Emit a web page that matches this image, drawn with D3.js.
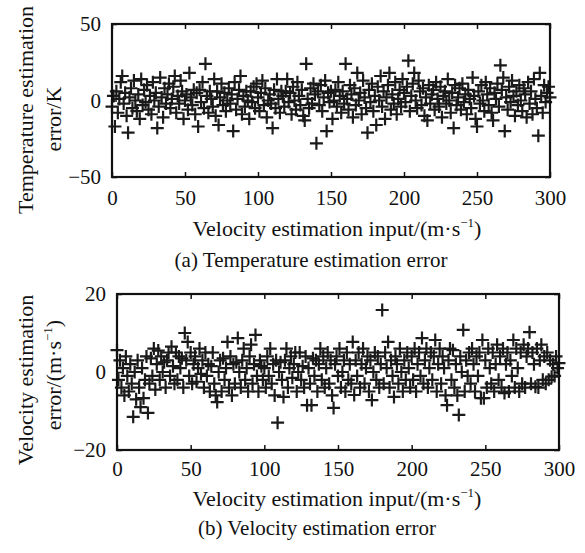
<!DOCTYPE html>
<html><head><meta charset="utf-8">
<script src="https://cdn.jsdelivr.net/npm/d3@7"></script>
<style>body{margin:0;background:#fff}svg{display:block}text{font-family:"Liberation Serif","Times New Roman",serif;fill:#111}</style>
</head><body>
<script>
const xTicks=[0,50,100,150,200,250,300];
const tempTicks=[-50,0,50];
const velTicks=[-20,0,20];
const inputStep=1; // velocity input grid 0..300
const tempError=[
-4,3,-17,6,-8,1,12,16,-2,5,-10,-21,2,8,-5,13,0,-7,4,-12,
14,-3,7,-1,10,-6,3,-9,12,0,5,-18,-4,15,2,-11,8,-2,4,11,
-5,1,9,16,-8,3,-2,13,6,-12,0,4,-6,18,2,-3,7,-9,5,-17,
7,-1,12,-5,24,3,-8,6,1,-4,14,-10,6,-16,2,11,-3,5,-7,0,
8,-2,4,-20,12,-6,1,7,16,-9,3,-4,6,0,-12,6,-1,9,-5,11,
2,-7,5,13,-3,8,-11,0,4,-2,-18,7,-5,14,1,-8,6,3,-4,6,
14,-1,5,-9,9,0,-6,12,3,-3,7,-10,-13,24,1,-5,8,-2,11,4,
-28,6,-3,10,-7,2,13,-20,5,-1,6,-12,0,7,-4,12,3,-8,6,-2,
24,1,-6,10,4,-11,8,-3,18,0,5,-9,13,2,-5,-21,7,-1,11,-7,
3,-16,9,0,16,-4,6,-12,2,10,18,-6,4,-2,12,-9,1,7,-4,14,
5,-1,9,26,-7,3,11,18,0,-5,13,6,-3,8,-10,2,-13,10,-2,4,
7,-6,12,1,-4,9,-11,3,6,-2,14,0,-8,5,-18,10,-3,2,8,-6,
11,-1,4,-9,7,1,-5,15,3,-12,-17,6,-2,10,0,-7,12,4,-3,8,
-8,-13,5,1,11,-4,23,7,15,-20,2,-6,9,-1,13,3,-10,6,-3,10,
0,-7,8,4,-11,12,-2,6,-9,14,1,-5,-23,18,3,-8,10,-1,5,9,
2];
const velError=[
5.6,-2,3,-4,1,-6,4,-1,-5,2,-3,-11.5,0,-7,3,-4,-9,1,-6.7,-2,
4,-10.5,-3,3.5,-1,6,-4.5,2,5.5,-2,4,0,2.5,-4,3,5,-1,6.5,1.5,-3,
5,-2,4,1,3.5,-4,10,3,7.7,-1,5,-3,2,4,-2.5,1,6,-0.5,3,-4,
5,-1,2,-5,1.5,5,-3,-6,-7.7,0,3,-5,3.5,-2,1,7.7,-4,4,-6,2,
-3,2.5,8.7,0,-4,3,6,-2,1,-5,4,7,-3,2,9.5,-1,-5,3,1.5,-2,
1,-4,4,-1,6,-3,2,-6,3,-13,0,2.5,-2,-6.4,3,6,-4,1,4,-1.5,
2,5,-5,0,5,-2,1.5,-4,4,-8.5,1,-3,-8.5,3.5,-1,3,-5,2,6,-2,
4,-4,1,5,-3,3,-6,-9.2,2,4,-1,6,-4,0,3,-5,5,-2,2,-3,
7.7,-5.9,3,-1,5,-4,2,6,-3,1,4,-5,3,-7.2,0,5,-2,4,-4,2,
15.9,-3,5,1,7.7,-4,3,-1,-6.4,4,2,-3,6,0,-5,3,-2,5,1,-4,
4,-2,6,-5,2,5,-1,8.7,-3,3,6,-4,1,5,-2,4,8.2,-5,2,6,
-3,4,1,-6,-8.5,3,6,-2,5.6,-4,2,-6,-11,4,0,10.8,-5,3,-1,5,
-3,6,2,-5,4,-1,5,-6.7,8.2,-6.7,3,-4,6,1,-3,5,-5,2,7,-2,
4,-4,6,-5.4,2,5,-5,3,-1,8.2,-4,6,1,-5,5,-3,7,-4,4,6,
10.2,-3,5,2,-3.8,6,-4,3,7,-2,4,-3,5,-2,3,-1.2,2,-1,4,1,
2.3];

const W=585,H=553;
const svg=d3.select("body").append("svg").attr("width",W).attr("height",H);
const FS=21;

function panel(cfg){
  const x=d3.scaleLinear().domain([0,300]).range([cfg.x0,cfg.x1]);
  const y=d3.scaleLinear().domain([cfg.ymin,cfg.ymax]).range([cfg.y1,cfg.y0]);
  const g=svg.append("g");
  const pts=cfg.values.map((v,i)=>({x:i*inputStep,y:v}));
  g.selectAll("path.pt").data(pts).join("path").attr("class","pt")
    .attr("d",d=>`M${x(d.x)-6.5},${y(d.y)}H${x(d.x)+6.5}M${x(d.x)},${y(d.y)-6.5}V${y(d.y)+6.5}`)
    .attr("stroke","#1a1a1a").attr("stroke-width",2.2).attr("fill","none");
  const ax=g.append("g").attr("transform",`translate(0,${cfg.y1})`)
    .call(d3.axisBottom(x).tickValues(xTicks).tickSize(-5).tickPadding(cfg.xpad).tickFormat(d3.format("d")));
  const axT=g.append("g").attr("transform",`translate(0,${cfg.y0})`)
    .call(d3.axisTop(x).tickValues(xTicks).tickSize(-5).tickFormat(""));
  const ay=g.append("g").attr("transform",`translate(${cfg.x0},0)`)
    .call(d3.axisLeft(y).tickValues(cfg.ticks).tickSize(-5).tickPadding(11).tickFormat(d=>d<0?"\u2212"+Math.abs(d):d));
  const ayR=g.append("g").attr("transform",`translate(${cfg.x1},0)`)
    .call(d3.axisRight(y).tickValues(cfg.ticks).tickSize(-5).tickFormat(""));
  [ax,axT,ay,ayR].forEach(a=>{a.select(".domain").remove();a.selectAll("line").attr("stroke","#111").attr("stroke-width",1.5);
    a.selectAll("text").attr("font-size",FS).attr("fill","#111").attr("font-family","Liberation Serif");});
  g.append("rect").attr("x",cfg.x0).attr("y",cfg.y0).attr("width",cfg.x1-cfg.x0).attr("height",cfg.y1-cfg.y0)
    .attr("fill","none").attr("stroke","#111").attr("stroke-width",2.2);
  const xt=svg.append("text").attr("x",337).attr("y",cfg.titleY).attr("text-anchor","middle").attr("font-size",22);
  xt.append("tspan").text("Velocity estimation input/(m\u00b7s");
  xt.append("tspan").attr("font-size",13).attr("dy",-9).text("\u22121");
  xt.append("tspan").attr("dy",9).text(")");
  svg.append("text").attr("x",cfg.capX).attr("y",cfg.capY).attr("text-anchor","middle").attr("font-size",21).text(cfg.caption);
  cfg.ylab(svg);
}

panel({x0:112,x1:550,y0:24,y1:177,ymin:-50,ymax:50,ticks:tempTicks,values:tempError,xpad:13,
  titleY:236,capX:311,capY:267,caption:"(a) Temperature estimation error",
  ylab:s=>{
    s.append("text").attr("transform","translate(33,110) rotate(-90)").attr("text-anchor","middle").attr("font-size",22).text("Temperature estimation");
    s.append("text").attr("transform","translate(61,119) rotate(-90)").attr("text-anchor","middle").attr("font-size",22).text("error/K");
  }});
panel({x0:117,x1:559,y0:294,y1:450,ymin:-20,ymax:20,ticks:velTicks,values:velError,xpad:11,
  titleY:506,capX:317,capY:535,caption:"(b) Velocity estimation error",
  ylab:s=>{
    s.append("text").attr("transform","translate(33,380) rotate(-90)").attr("text-anchor","middle").attr("font-size",22).text("Velocity estimation");
    const t=s.append("text").attr("transform","translate(61,375) rotate(-90)").attr("text-anchor","middle").attr("font-size",22);
    t.append("tspan").text("error/(m\u00b7s");
    t.append("tspan").attr("font-size",13).attr("dy",-9).text("\u22121");
    t.append("tspan").attr("dy",9).text(")");
  }});
</script>
</body></html>
